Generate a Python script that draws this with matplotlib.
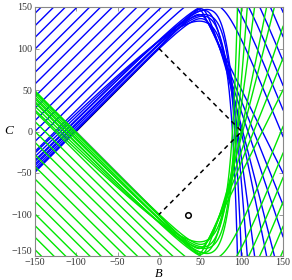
import numpy as np
import matplotlib
matplotlib.use("Agg")
import matplotlib.pyplot as plt

# each curve: left asymptote C = B + a, right asymptote C = -m*(B - b),
# rounded so that its highest point sits at C = top
inner_a = [101, 103, 106, 104, 110, 114, 119, 126, 134]
inner_m = [2, 2.5, 3, 4, 5, 8, 14, 30, 100]
inner_b = [125, 115, 108, 103, 101, 99, 98.5, 99, 100]
inner_top = [147, 141, 148, 136, 146, 139, 147, 141, 133]

outer_a = [116, 128, 140, 152, 165, 180, 194, 209, 223, 236, 251, 265, 279, 294]
outer_b = [150, 163, 175, 187, 199, 211, 224, 237, 250, 263, 276, 289, 302, 315]
outer_m = 2.5
outer_r = 40

dash_B = [0, 100, 0]
dash_C = [100, 0, -100]
edge_B = [0, -100, 0]
edge_C = [100, 0, -100]
point_B = [35]
point_C = [-100]
ticks = [-150, -100, -50, 0, 50, 100, 150]

BLUE = '#0000ff'
GREEN = '#00e600'
SERIF = ['Liberation Serif', 'DejaVu Serif']


def branch(B, a, m, b, r):
    p = B + a
    q = m * (B - b)
    return (p - q - np.sqrt((p + q) ** 2 + 4 * r * r)) / 2


def rounding(a, m, b, top):
    corner = m * (b + a) / (m + 1)
    return (corner - top) * (m + 1) / (2 * np.sqrt(m))


fig = plt.figure(figsize=(2.92, 2.80), dpi=100)
ax = fig.add_axes([35 / 292, 24 / 280, 248 / 292, 249 / 280])

B = np.linspace(-160, 160, 8001)
params = [(a, m, b, rounding(a, m, b, t))
          for a, m, b, t in zip(inner_a, inner_m, inner_b, inner_top)]
params += [(a, outer_m, b, outer_r) for a, b in zip(outer_a, outer_b)]

ax.plot(edge_B[:2], edge_C[:2], color='k', lw=0.8)
ax.plot(edge_B[1:], edge_C[1:], color='#9a70d0', lw=0.8)

for a, m, b, r in params:
    ax.plot(B, branch(B, a, m, b, r), color=BLUE, lw=1.0)
for a, m, b, r in params:
    ax.plot(B, -branch(B, a, m, b, r), color=GREEN, lw=1.0)

ax.plot(dash_B, dash_C, color='k', lw=1.1, dashes=(3, 2.6))
ax.plot(point_B, point_C, 'o', mfc='none', mec='k', ms=4, mew=1.1)

ax.set_xlim(-150, 150)
ax.set_ylim(-150, 150)
ax.set_xticks(ticks)
ax.set_yticks(ticks)
ax.set_xticklabels([str(t).replace('-', '\u2212') for t in ticks])
ax.set_yticklabels([str(t).replace('-', '\u2212') for t in ticks])
ax.tick_params(direction='in', length=3, width=0.6, color='#888888',
               top=True, right=True, labelsize=7.2, labelcolor='#333333', pad=2)
ax.tick_params(axis='x', pad=1.5)
for lab in ax.get_xticklabels() + ax.get_yticklabels():
    lab.set_family(SERIF)
# keep the lowest C label clear of the first B label in the corner
ax.yaxis.get_major_ticks()[0].label1.set_verticalalignment('bottom')
for sp in ax.spines.values():
    sp.set_color('#888888')
    sp.set_linewidth(0.8)

# axis names placed by hand so they sit just under / beside the tick labels
fig.text((35 + 124) / 292, 0.0, 'B', family=SERIF, fontstyle='italic',
         fontsize=9, ha='center', va='bottom')
ax.set_ylabel('C', family=SERIF, fontstyle='italic', fontsize=9.5, rotation=0,
              labelpad=2, va='center')

fig.savefig('out.png', dpi=100)
